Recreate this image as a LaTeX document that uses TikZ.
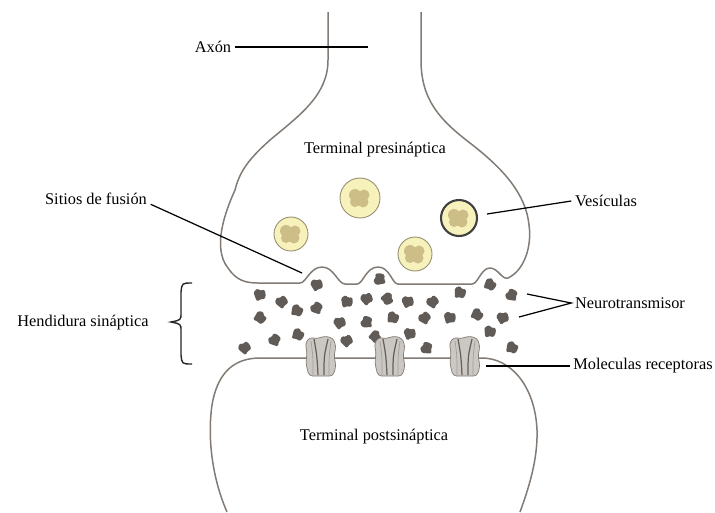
\documentclass[tikz,border=0pt]{standalone}
\usepackage{fontspec}
\setmainfont{Liberation Serif}
\usepackage{tikz}

\definecolor{membrane}{RGB}{130,122,116}
\definecolor{vesfill}{RGB}{247,241,188}
\definecolor{vesedge}{RGB}{150,142,112}
\definecolor{vescore}{RGB}{205,190,135}
\definecolor{transm}{RGB}{96,91,87}
\definecolor{recfill}{RGB}{203,199,195}
\definecolor{recline}{RGB}{100,95,90}

\begin{document}
\begin{tikzpicture}[x=0.02cm, y=-0.02cm,
    membrane line/.style={draw=membrane, line width=0.85pt},
    leader/.style={draw=black, line width=0.7pt},
    tag/.style={font=\fontsize{9.3}{11}\selectfont, inner sep=2pt}]
  \useasboundingbox (0,0) rectangle (715,512);
  \fill[white] (0,0) rectangle (715,512);

  % presynaptic terminal with the three fusion bumps
  \draw[membrane line] (328,12) -- (328,60)
      .. controls (328,95) and (300,115) .. (270,140)
      .. controls (250,158) and (240,170) .. (235,190)
      .. controls (225,212) and (212,248) .. (228,268)
      .. controls (236,280) and (245,283) .. (258,283) -- (300,283)
      .. controls (306,283) and (310,267) .. (322,267)
      .. controls (334,267) and (338,284) .. (345,284) -- (357,284)
      .. controls (363,284) and (366,267) .. (378,267)
      .. controls (390,267) and (392,284) .. (398,284) -- (472,284)
      .. controls (478,284) and (481,268) .. (490,268)
      .. controls (498,268) and (502,280) .. (508,278)
      .. controls (525,270) and (532,245) .. (529,225)
      .. controls (526,195) and (505,170) .. (470,143)
      .. controls (440,120) and (421,100) .. (421,60) -- (421,12);

  % postsynaptic terminal
  \draw[membrane line] (227,512)
      .. controls (213,480) and (207,440) .. (212,405)
      .. controls (217,375) and (232,358) .. (260,358) -- (482,358)
      .. controls (510,358) and (535,385) .. (537,430)
      .. controls (538,460) and (528,490) .. (520,512);

  % vesicles
  \foreach \x/\y/\r in {291/234/17, 360/198/20, 415/254/17}{
      \filldraw[fill=vesfill, draw=vesedge, line width=0.5pt] (\x,\y) circle (\r);
  }
  \filldraw[fill=vesfill, draw=black!75, line width=1.2pt] (459,218) circle (18);
  \foreach \x/\y in {291/234, 360/198, 415/254, 459/218}{
      \fill[vescore] (\x-5,\y-3) circle (6) (\x+4,\y-3) circle (5.5)
          (\x+3,\y+4) circle (5.5) (\x-5,\y+4) circle (5);
  }

  % neurotransmitter
  \foreach \x/\y/\r in {317/285/20, 380/279/90, 490/285/-30, 260/295/10,
      282/302/40, 297/311/-20, 317/308/60, 347/302/0, 367/299/30,
      387/299/-60, 408/302/15, 433/302/45, 460/293/-10, 512/295/70,
      260/318/-40, 340/323/25, 367/322/80, 393/318/-15, 425/318/50,
      450/318/5, 477/315/-35, 503/318/20, 275/340/60, 298/335/-25,
      347/341/35, 375/337/-50, 410/334/10, 427/348/75, 490/332/-5,
      245/348/40, 512/348/-20}{
      \fill[transm, rounded corners=0.8pt, shift={(\x,\y)}, rotate=\r]
          (-6,-4) -- (-1,-7) -- (1,-4) -- (5,-5) -- (6,0) -- (4,5)
          -- (0,4) -- (-4,6) -- (-5,2) -- cycle;
  }

  % receptor molecules
  \foreach \x in {321,390,465}{
      \filldraw[fill=recfill, draw=membrane, line width=0.4pt, rounded corners=2,
          shift={(\x,356)}]
          (-12,20) -- (-15,8) -- (-14,-5) -- (-16,-12) -- (-11,-19) -- (-4,-17)
          -- (3,-20) -- (12,-18) -- (15,-10) -- (13,0) -- (15,10) -- (12,20) -- cycle;
      \draw[recline, line width=0.7pt, shift={(\x,356)}]
          (-7,-17) .. controls (-4,0) .. (-3,19)
          (7,-17) .. controls (3,0) .. (3,19);
      \draw[recline!60, line width=0.4pt, shift={(\x,356)}]
          (-10,-15) .. controls (-8,0) .. (-8,19)
          (10,-15) .. controls (8,0) .. (8,19);
  }

  % synaptic cleft brace
  \draw[black!85, line width=0.8pt] (192,283) .. controls (182,283) .. (181,292)
      -- (181,313) .. controls (181,320) .. (171,322)
      .. controls (181,324) .. (181,331) -- (181,355)
      .. controls (182,364) .. (192,364);

  % labels
  \node[tag] (axon) at (213,47) {Axón};
  \node[tag] (pre) at (375,150) {Terminal presináptica};
  \node[tag] (sitios) at (96,199) {Sitios de fusión};
  \node[tag] (vesiculas) at (606,201) {Vesículas};
  \node[tag] (hendidura) at (83,323) {Hendidura sináptica};
  \node[tag] (neuro) at (630,303) {Neurotransmisor};
  \node[tag] (receptoras) at (643,366) {Moleculas receptoras};
  \node[tag] (post) at (374,437) {Terminal postsináptica};

  \coordinate (axonEnd) at (368,47);
  \coordinate (sitiosEnd) at (302,273);
  \coordinate (vesEnd) at (487,214);
  \coordinate (ntA) at (527,294);
  \coordinate (ntB) at (519,317);
  \coordinate (recEnd) at (486,366);

  \draw[leader] (axon.east) -- (axonEnd);
  \draw[leader] ([yshift=-3pt]sitios.east) -- (sitiosEnd);
  \draw[leader] (vesEnd) -- (vesiculas.west);
  \draw[leader] (ntA) -- (neuro.west) -- (ntB);
  \draw[leader] (recEnd) -- (receptoras.west);
\end{tikzpicture}
\end{document}
